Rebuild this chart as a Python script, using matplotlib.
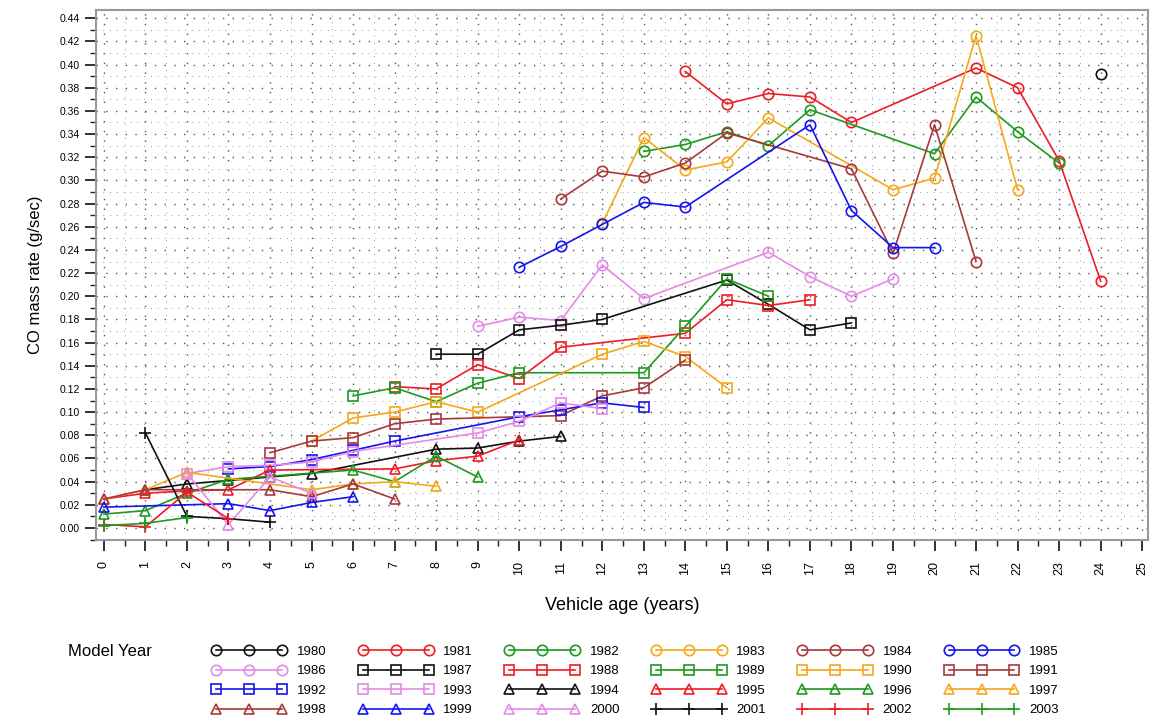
import matplotlib
matplotlib.use("Agg")
import matplotlib.pyplot as plt
from matplotlib.ticker import MultipleLocator

plt.rcParams["font.family"] = ["Liberation Sans", "DejaVu Sans"]

# CO mass rate (g/sec) by vehicle age, one series per model year
age_1980 = [24]
co_1980 = [0.392]
age_1981 = [14, 15, 16, 17, 18, 21, 22, 23, 24]
co_1981 = [0.394, 0.366, 0.375, 0.372, 0.350, 0.397, 0.380, 0.317, 0.213]
age_1982 = [13, 14, 15, 16, 17, 20, 21, 22, 23]
co_1982 = [0.325, 0.331, 0.342, 0.330, 0.361, 0.323, 0.372, 0.342, 0.315]
age_1983 = [12, 13, 14, 15, 16, 19, 20, 21, 22]
co_1983 = [0.263, 0.337, 0.309, 0.316, 0.354, 0.292, 0.302, 0.425, 0.292]
age_1984 = [11, 12, 13, 14, 15, 18, 19, 20, 21]
co_1984 = [0.284, 0.308, 0.303, 0.315, 0.341, 0.310, 0.237, 0.348, 0.230]
age_1985 = [10, 11, 12, 13, 14, 17, 18, 19, 20]
co_1985 = [0.225, 0.243, 0.262, 0.281, 0.277, 0.348, 0.274, 0.242, 0.242]
age_1986 = [9, 10, 11, 12, 13, 16, 17, 18, 19]
co_1986 = [0.174, 0.182, 0.179, 0.227, 0.198, 0.238, 0.217, 0.200, 0.215]
age_1987 = [8, 9, 10, 11, 12, 15, 16, 17, 18]
co_1987 = [0.150, 0.150, 0.171, 0.175, 0.180, 0.214, 0.193, 0.171, 0.177]
age_1988 = [7, 8, 9, 10, 11, 14, 15, 16, 17]
co_1988 = [0.122, 0.120, 0.141, 0.129, 0.156, 0.168, 0.197, 0.192, 0.197]
age_1989 = [6, 7, 8, 9, 10, 13, 14, 15, 16]
co_1989 = [0.114, 0.121, 0.109, 0.125, 0.134, 0.134, 0.174, 0.215, 0.200]
age_1990 = [5, 6, 7, 8, 9, 12, 13, 14, 15]
co_1990 = [0.075, 0.095, 0.100, 0.109, 0.100, 0.150, 0.161, 0.148, 0.121]
age_1991 = [4, 5, 6, 7, 8, 11, 12, 13, 14]
co_1991 = [0.065, 0.075, 0.078, 0.090, 0.094, 0.097, 0.114, 0.121, 0.145]
age_1992 = [3, 4, 5, 6, 7, 10, 11, 12, 13]
co_1992 = [0.051, 0.053, 0.059, 0.067, 0.075, 0.096, 0.102, 0.108, 0.104]
age_1993 = [2, 3, 4, 5, 6, 9, 10, 11, 12]
co_1993 = [0.047, 0.053, 0.054, 0.057, 0.066, 0.082, 0.092, 0.108, 0.103]
age_1994 = [1, 2, 3, 4, 5, 8, 9, 10, 11]
co_1994 = [0.033, 0.038, 0.041, 0.044, 0.047, 0.068, 0.069, 0.075, 0.079]
age_1995 = [0, 1, 2, 3, 4, 7, 8, 9, 10]
co_1995 = [0.025, 0.030, 0.032, 0.033, 0.050, 0.051, 0.058, 0.062, 0.076]
age_1996 = [0, 1, 2, 3, 6, 7, 8, 9]
co_1996 = [0.012, 0.015, 0.030, 0.042, 0.050, 0.040, 0.062, 0.044]
age_1997 = [0, 1, 2, 5, 6, 7, 8]
co_1997 = [0.025, 0.033, 0.048, 0.033, 0.038, 0.040, 0.036]
age_1998 = [0, 1, 4, 5, 6, 7]
co_1998 = [0.025, 0.033, 0.033, 0.027, 0.038, 0.025]
age_1999 = [0, 3, 4, 5, 6]
co_1999 = [0.018, 0.021, 0.015, 0.022, 0.027]
age_2000 = [2, 3, 4, 5]
co_2000 = [0.047, 0.003, 0.044, 0.030]
age_2001 = [1, 2, 3, 4]
co_2001 = [0.082, 0.010, 0.008, 0.005]
age_2002 = [0, 1, 2, 3]
co_2002 = [0.003, 0.001, 0.031, 0.008]
age_2003 = [0, 1, 2]
co_2003 = [0.002, 0.004, 0.009]

model_years = list(range(1980, 2004))
ages = [age_1980, age_1981, age_1982, age_1983, age_1984, age_1985, age_1986,
        age_1987, age_1988, age_1989, age_1990, age_1991, age_1992, age_1993,
        age_1994, age_1995, age_1996, age_1997, age_1998, age_1999, age_2000,
        age_2001, age_2002, age_2003]
rates = [co_1980, co_1981, co_1982, co_1983, co_1984, co_1985, co_1986,
         co_1987, co_1988, co_1989, co_1990, co_1991, co_1992, co_1993,
         co_1994, co_1995, co_1996, co_1997, co_1998, co_1999, co_2000,
         co_2001, co_2002, co_2003]

# SAS-style cycling: 7 colours, then next symbol
colors = ["#111111", "#ee1c24", "#1e9a1e", "#f5a818", "#a8383c", "#1414f0", "#e48ae8"]
symbols = ["o", "s", "^", "+"]

fig = plt.figure(figsize=(11.51, 7.21), dpi=100)
ax = fig.add_axes([0.0834, 0.251, 0.914, 0.735])

handles = []
for i, (my, x, y) in enumerate(zip(model_years, ages, rates)):
    c = colors[i % 7]
    m = symbols[i // 7]
    ms = 9 if m == "+" else 7.5
    h, = ax.plot(x, y, color=c, lw=1.2, marker=m, ms=ms, mfc="none",
                 mec=c, mew=1.2, label=str(my))
    handles.append(h)

ax.set_xlim(-0.19, 25.14)
ax.set_ylim(-0.0104, 0.447)
ax.xaxis.set_minor_locator(MultipleLocator(0.5))
ax.yaxis.set_minor_locator(MultipleLocator(0.01))
ax.set_yticks([i * 0.02 for i in range(23)])
ax.set_yticklabels([f"{i * 0.02:.2f}" for i in range(23)], fontsize=7.5)
ax.set_xticks(range(26))
ax.set_xticklabels([str(i) for i in range(26)], rotation=90, fontsize=9)
ax.tick_params(which="major", length=8, width=1.3, color="#222222")
ax.tick_params(which="minor", length=4, width=1.0, color="#222222")
ax.tick_params(axis="x", pad=7)

ax.grid(which="major", color="#555555", linestyle=(0, (1, 6)), linewidth=1.0)
ax.grid(which="minor", color="#999999", linestyle=(0, (1, 6)), linewidth=0.7)
ax.set_axisbelow(True)
for s in ax.spines.values():
    s.set_color("#999999")
    s.set_linewidth(1.5)

ax.set_xlabel("Vehicle age (years)", fontsize=13, labelpad=16)
ax.set_ylabel("CO mass rate (g/sec)", fontsize=12, labelpad=12)

# legend laid out row-major: 4 rows x 6 columns
nrow, ncol = 4, 6
order = [r * ncol + c for c in range(ncol) for r in range(nrow)]
fig.legend([handles[k] for k in order], [model_years[k] for k in order],
           loc="upper left", bbox_to_anchor=(0.180, 0.112),
           ncol=ncol, frameon=False, fontsize=9.5, numpoints=3,
           handlelength=5.6, handletextpad=0.8, columnspacing=2.45,
           labelspacing=0.55, borderaxespad=0)
fig.text(68 / 1151, 1 - 651 / 721, "Model Year", fontsize=12, va="center")

fig.savefig("out.png", dpi=100)
